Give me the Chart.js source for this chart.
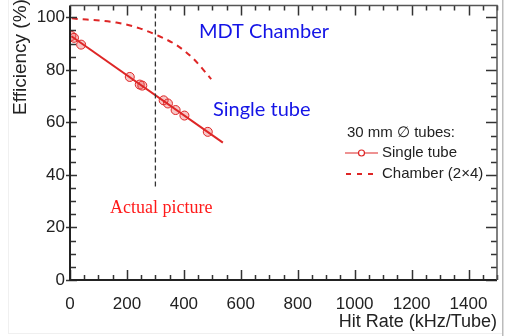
<!DOCTYPE html>
<html>
<head>
<meta charset="utf-8">
<script src="https://cdn.jsdelivr.net/npm/chart.js@4.4.0/dist/chart.umd.min.js"></script>
<style>
  html, body { margin: 0; padding: 0; background: #fff; }
  #wrap { width: 506px; height: 336px; position: relative; }
</style>
</head>
<body>
<div id="wrap"><canvas id="chart" width="506" height="336"></canvas></div>
<script>
// single tube measurements (hit rate in kHz/tube, efficiency in %)
const singleRate = [5, 14, 39, 210, 245, 254, 329, 344, 371, 402, 484];
const singleEff  = [92.9, 92.2, 89.6, 77.3, 74.4, 74.0, 68.4, 67.2, 64.7, 62.6, 56.4];

// straight fit through the single tube points
const fitRate = [5, 537];
const fitEff  = [92.8, 52.3];

// chamber (2x4) expectation
const chamberRate = [6, 163, 245, 303, 373, 431, 496];
const chamberEff  = [99.6, 98.0, 95.8, 93.3, 89.5, 84.5, 76.5];

// vertical marker at 300 kHz
const markRate = [300, 300];
const markEff  = [104.5, 34.5];

const xTicks = [0, 200, 400, 600, 800, 1000, 1200, 1400];
const yTicks = [0, 20, 40, 60, 80, 100];

const RED = 'rgb(222,38,38)';
const AXIS = '#333';
const sans = '"Liberation Sans", Arial, sans-serif';

function pts(xs, ys) {
    return xs.map((x, i) => ({ x: x, y: ys[i] }));
}

// ROOT style frame, inside ticks, titles, notes and legend
const decorations = {
    id: 'decorations',
    beforeDraw(chart) {
        // faint edges of the pasted picture
        const ctx = chart.ctx;
        ctx.save();
        ctx.fillStyle = '#bbb';
        ctx.fillRect(502, 0, 1.5, 336);
        ctx.fillStyle = '#f0f0f0';
        ctx.fillRect(8, 0, 1, 334);
        ctx.fillRect(8, 333, 494, 1);
        ctx.restore();
    },
    afterDatasetsDraw(chart) {
        const ctx = chart.ctx;
        const a = chart.chartArea;
        const xs = chart.scales.x, ys = chart.scales.y;
        ctx.save();

        ctx.strokeStyle = AXIS;
        ctx.lineWidth = 1.5;
        ctx.beginPath();
        // bottom / top ticks
        for (let v = 0; v <= 1500; v += 50) {
            const px = Math.round(xs.getPixelForValue(v)) + 0.5;
            const major = v % 200 === 0;
            const len = major ? 10 : 5;
            ctx.moveTo(px, a.bottom); ctx.lineTo(px, a.bottom - len);
            ctx.moveTo(px, a.top); ctx.lineTo(px, a.top + len);
        }
        // left / right ticks
        for (let v = 0; v <= 104; v += 5) {
            const py = Math.round(ys.getPixelForValue(v)) + 0.5;
            const major = v % 20 === 0;
            const len = major ? 11 : 6;
            ctx.moveTo(a.left - (major ? 4 : 0), py); ctx.lineTo(a.left + len - (major ? 4 : 0), py);
            ctx.moveTo(a.right, py); ctx.lineTo(a.right - len, py);
        }
        ctx.stroke();

        ctx.lineWidth = 2;
        ctx.strokeStyle = '#222';
        ctx.beginPath();
        ctx.moveTo(a.left, a.top); ctx.lineTo(a.left, a.bottom); ctx.lineTo(a.right, a.bottom);
        ctx.stroke();
        ctx.lineWidth = 1.5;
        ctx.strokeStyle = '#555';
        ctx.beginPath();
        ctx.moveTo(a.left, a.top); ctx.lineTo(a.right, a.top); ctx.lineTo(a.right, a.bottom);
        ctx.stroke();

        // axis titles
        ctx.fillStyle = '#222';
        ctx.font = '18px ' + sans;
        ctx.textAlign = 'right';
        ctx.textBaseline = 'middle';
        ctx.fillText('Hit Rate (kHz/Tube)', a.right, 322);
        ctx.save();
        ctx.translate(21, 57);
        ctx.rotate(-Math.PI / 2);
        ctx.textAlign = 'center';
        ctx.font = '19px ' + sans;
        ctx.fillText('Efficiency (%)', 0, 0);
        ctx.restore();

        // annotations
        ctx.textAlign = 'left';
        ctx.fillStyle = '#1414e6';
        ctx.font = '20px Lato, "Open Sans", sans-serif';
        ctx.fillText('MDT Chamber', 199, 32);
        ctx.fillText('Single tube', 213, 110);
        ctx.fillStyle = '#ff1a1a';
        ctx.font = '18px "Liberation Serif", "Times New Roman", serif';
        ctx.fillText('Actual picture', 110, 208);

        // legend
        ctx.fillStyle = '#222';
        ctx.font = '15px ' + sans;
        ctx.fillText('30 mm \u2205 tubes:', 347, 133);
        ctx.fillText('Single tube', 382, 153);
        ctx.fillText('Chamber (2\u00d74)', 382, 174);
        ctx.strokeStyle = RED;
        ctx.lineWidth = 1.2;
        ctx.beginPath();
        ctx.moveTo(345, 153); ctx.lineTo(378, 153);
        ctx.stroke();
        ctx.beginPath();
        ctx.arc(361.5, 153, 3, 0, Math.PI * 2);
        ctx.fillStyle = '#fff';
        ctx.fill();
        ctx.stroke();
        ctx.lineWidth = 2;
        ctx.setLineDash([5, 6]);
        ctx.beginPath();
        ctx.moveTo(346, 174); ctx.lineTo(379, 174);
        ctx.stroke();
        ctx.restore();
    }
};

new Chart(document.getElementById('chart'), {
    type: 'scatter',
    data: {
        datasets: [
            {
                label: 'marker',
                data: pts(markRate, markEff),
                showLine: true,
                borderColor: '#333',
                borderWidth: 1.3,
                borderDash: [5, 3],
                pointRadius: 0
            },
            {
                label: 'Chamber (2x4)',
                data: pts(chamberRate, chamberEff),
                showLine: true,
                borderColor: RED,
                borderWidth: 2,
                borderDash: [6, 5],
                cubicInterpolationMode: 'monotone',
                pointRadius: 0
            },
            {
                label: 'fit',
                data: pts(fitRate, fitEff),
                showLine: true,
                borderColor: RED,
                borderWidth: 2,
                pointRadius: 0
            },
            {
                label: 'Single tube',
                data: pts(singleRate, singleEff),
                showLine: false,
                borderColor: RED,
                backgroundColor: 'rgba(230,70,70,0.3)',
                borderWidth: 1,
                pointRadius: 4.5
            }
        ]
    },
    options: {
        responsive: false,
        animation: false,
        layout: { padding: { left: 0, right: 9, top: 3, bottom: 0 } },
        plugins: {
            legend: { display: false },
            tooltip: { enabled: false }
        },
        scales: {
            x: {
                type: 'linear',
                min: 0,
                max: 1500,
                afterBuildTicks: s => { s.ticks = xTicks.map(v => ({ value: v })); },
                afterFit: s => { s.height = 56; s.paddingLeft = 0; s.paddingRight = 0; },
                grid: { display: false, drawTicks: false },
                border: { display: false },
                ticks: {
                    color: '#222',
                    font: { family: sans, size: 17 },
                    padding: 14,
                    maxRotation: 0,
                    callback: v => String(v)
                }
            },
            y: {
                type: 'linear',
                min: 0,
                max: 104.5,
                afterBuildTicks: s => { s.ticks = yTicks.map(v => ({ value: v })); },
                afterFit: s => { s.width = 70; s.paddingTop = 0; s.paddingBottom = 0; },
                grid: { display: false, drawTicks: false },
                border: { display: false },
                ticks: {
                    color: '#222',
                    font: { family: sans, size: 17 },
                    padding: 5,
                    callback: v => String(v)
                }
            }
        }
    },
    plugins: [decorations]
});
</script>
</body>
</html>
